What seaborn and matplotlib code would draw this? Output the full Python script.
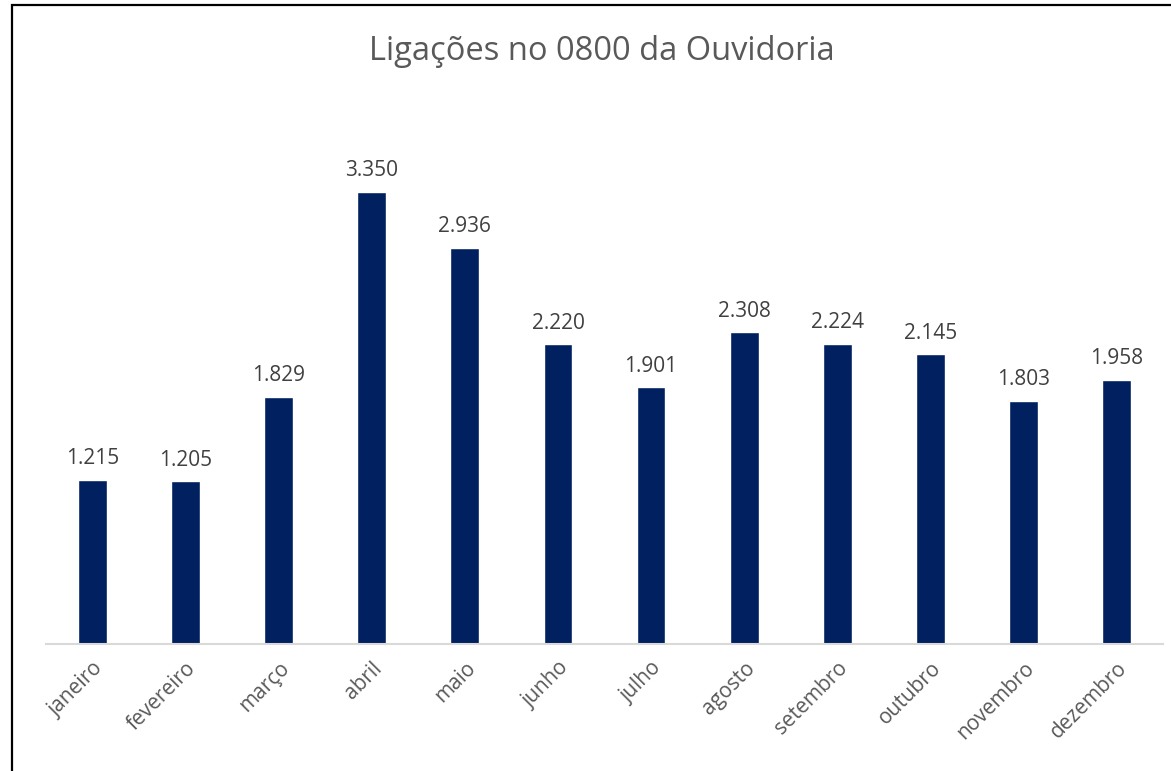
import matplotlib
matplotlib.use("Agg")
import matplotlib.pyplot as plt
import seaborn as sns
import pandas as pd
from matplotlib.patches import Rectangle

meses = ["janeiro", "fevereiro", "março", "abril", "maio", "junho",
         "julho", "agosto", "setembro", "outubro", "novembro", "dezembro"]
ligacoes = [1215, 1205, 1829, 3350, 2936, 2220, 1901, 2308, 2224, 2145, 1803, 1958]
rotulos = ["1.215", "1.205", "1.829", "3.350", "2.936", "2.220",
           "1.901", "2.308", "2.224", "2.145", "1.803", "1.958"]

df = pd.DataFrame({"mes": meses, "ligacoes": ligacoes})

sns.set_style("white")
plt.rcParams["font.family"] = ["Open Sans", "DejaVu Sans"]
grey = "#595959"

fig = plt.figure(figsize=(11.71, 7.71), dpi=100)
ax = fig.add_axes([46 / 1171, 1 - 644 / 771, 1117 / 1171, 540 / 771])

sns.barplot(data=df, x="mes", y="ligacoes", color="#002060", width=0.31,
            saturation=1, ax=ax)

for i, (v, t) in enumerate(zip(ligacoes, rotulos)):
    ax.text(i, v + 80, t, ha="center", va="bottom", fontsize=15, color="#404040")

ax.set_ylim(0, 4000)
ax.set_xlim(-0.5, len(meses) - 0.5)
ax.set_xlabel("")
ax.set_ylabel("")
ax.set_yticks([])
for s in ["top", "right", "left"]:
    ax.spines[s].set_visible(False)
ax.spines["bottom"].set_color("#d9d9d9")
ax.spines["bottom"].set_linewidth(1.5)
ax.tick_params(axis="x", length=0, pad=10)
plt.setp(ax.get_xticklabels(), rotation=45, ha="right", rotation_mode="anchor",
         fontsize=15, color=grey)

fig.text(602 / 1171, 1 - 51 / 771, "Ligações no 0800 da Ouvidoria",
         ha="center", va="center", fontsize=23.5, color=grey)

# moldura do gráfico (sai da imagem à direita e embaixo)
fig.patches.append(Rectangle((12 / 1171, -0.1), 1.2, 1 - 5 / 771 + 0.1,
                             transform=fig.transFigure, fill=False,
                             edgecolor="black", linewidth=1.6, clip_on=False))

fig.savefig("out.png", dpi=100)
